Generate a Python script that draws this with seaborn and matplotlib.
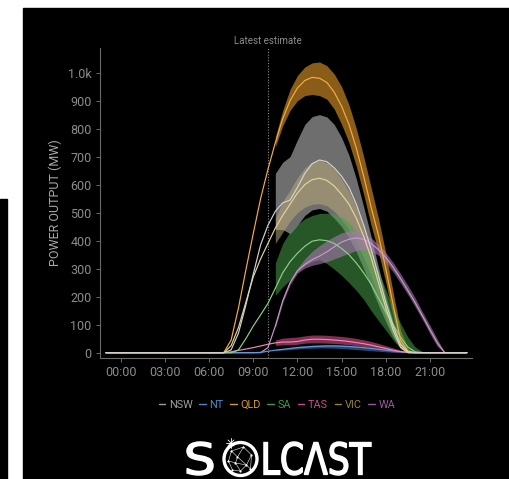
import matplotlib
matplotlib.use("Agg")
import numpy as np
import pandas as pd
import matplotlib.pyplot as plt
import seaborn as sns
from matplotlib.lines import Line2D
from matplotlib.patches import Rectangle, Circle, PathPatch
from matplotlib.textpath import TextPath
from matplotlib.font_manager import FontProperties
import matplotlib.transforms as mtransforms

# ---------------------------------------------------------------- data
# hour of day (local), estimated actuals up to 10:00, forecast after
hours = [-1.0, 6.5, 7.0, 7.5, 8.0, 8.5, 9.0, 9.5, 10.0, 10.5, 11.0, 11.5, 12.0,
         12.5, 13.0, 13.5, 14.0, 14.5, 15.0, 15.5, 16.0, 16.5, 17.0, 17.5, 18.0,
         18.5, 19.0, 19.5, 20.0, 20.5, 21.0, 21.5, 22.0, 23.5]

nsw = [0, 0, 0, 10, 70, 170, 280, 385, 455, 505, 535, 545, 590, 640, 675, 688, 682,
       660, 630, 590, 530, 455, 370, 275, 180, 95, 30, 3, 0, 0, 0, 0, 0, 0]
nt = [0, 0, 0, 0, 0, 0, 0, 1, 5, 9, 12, 15, 18, 20, 22, 23, 24,
      24, 23, 22, 20, 18, 15, 12, 9, 6, 3, 1, 0, 0, 0, 0, 0, 0]
qld = [0, 0, 0, 45, 160, 295, 425, 550, 655, 750, 835, 900, 945, 972, 983, 980, 965,
       930, 880, 815, 730, 630, 520, 420, 300, 170, 45, 5, 0, 0, 0, 0, 0, 0]
sa = [0, 0, 0, 0, 10, 50, 95, 135, 176, 230, 285, 325, 355, 380, 398, 403, 400,
      390, 372, 350, 320, 285, 245, 195, 145, 100, 55, 20, 3, 0, 0, 0, 0, 0]
tas = [0, 0, 0, 3, 8, 13, 18, 24, 30, 35, 38, 38, 40, 45, 48, 48, 47,
       45, 43, 40, 36, 32, 27, 21, 15, 9, 4, 1, 0, 0, 0, 0, 0, 0]
vic = [0, 0, 0, 25, 90, 180, 270, 335, 390, 445, 490, 530, 570, 600, 618, 623, 615,
       595, 565, 530, 480, 415, 340, 250, 160, 80, 20, 0, 0, 0, 0, 0, 0, 0]
wa = [0, 0, 0, 0, 0, 0, 0, 0, 18, 95, 185, 250, 292, 315, 332, 345, 360,
      378, 395, 405, 410, 405, 390, 368, 340, 305, 265, 222, 178, 130, 82, 35, 0, 0]

# forecast uncertainty range (10th / 90th percentile)
forecast_hours = [10.5, 11.0, 11.5, 12.0, 12.5, 13.0, 13.5, 14.0, 14.5, 15.0, 15.5, 16.0,
                  16.5, 17.0, 17.5, 18.0, 18.5, 19.0, 19.5, 20.0, 20.5, 21.0, 21.5, 22.0]

nsw_lo = [440, 440, 425, 455, 490, 510, 515, 505, 480, 450, 410, 360, 300, 235, 170, 110, 55, 15, 0, 0, 0, 0, 0, 0]
nsw_hi = [640, 680, 700, 760, 815, 843, 850, 842, 815, 768, 705, 620, 520, 415, 305, 200, 110, 45, 10, 0, 0, 0, 0, 0]
vic_lo = [390, 430, 470, 500, 520, 530, 532, 525, 505, 475, 440, 395, 340, 275, 200, 125, 60, 15, 0, 0, 0, 0, 0, 0]
vic_hi = [480, 540, 580, 625, 660, 680, 686, 678, 655, 620, 575, 520, 450, 370, 280, 185, 95, 30, 3, 0, 0, 0, 0, 0]
qld_lo = [735, 810, 865, 900, 918, 922, 918, 905, 870, 815, 750, 665, 565, 455, 360, 250, 130, 20, 0, 0, 0, 0, 0, 0]
qld_hi = [770, 865, 940, 990, 1020, 1035, 1038, 1025, 995, 950, 885, 800, 700, 590, 480, 355, 215, 80, 15, 0, 0, 0, 0, 0]
sa_lo = [205, 235, 260, 290, 312, 326, 332, 318, 298, 276, 250, 222, 190, 150, 115, 80, 45, 15, 2, 0, 0, 0, 0, 0]
sa_hi = [320, 390, 432, 458, 478, 490, 497, 498, 495, 485, 465, 432, 385, 345, 290, 225, 160, 105, 55, 20, 3, 0, 0, 0]
tas_lo = [26, 28, 28, 30, 34, 35, 35, 34, 33, 31, 28, 25, 22, 18, 13, 8, 4, 1, 0, 0, 0, 0, 0, 0]
tas_hi = [45, 52, 54, 56, 60, 63, 63, 62, 60, 58, 55, 51, 46, 40, 33, 25, 17, 9, 3, 0, 0, 0, 0, 0]
nt_lo = [7, 9, 11, 13, 15, 16, 17, 17, 16, 15, 13, 11, 9, 7, 5, 3, 1, 0, 0, 0, 0, 0, 0, 0]
nt_hi = [11, 15, 19, 23, 25, 27, 28, 29, 29, 28, 26, 24, 21, 17, 13, 9, 5, 2, 0, 0, 0, 0, 0, 0]
wa_lo = [88, 178, 242, 284, 302, 312, 318, 325, 335, 345, 355, 365, 368, 362, 348, 322, 288, 248, 207, 163, 117, 67, 22, 0]
wa_hi = [102, 192, 258, 302, 335, 362, 382, 400, 415, 428, 435, 435, 425, 410, 387, 357, 322, 282, 240, 195, 145, 97, 48, 0]

states = ["NSW", "NT", "QLD", "SA", "TAS", "VIC", "WA"]
latest_estimate = 10.0
x_ticks = [0, 3, 6, 9, 12, 15, 18, 21]
x_tick_labels = ["00:00", "03:00", "06:00", "09:00", "12:00", "15:00", "18:00", "21:00"]
y_ticks = [0, 100, 200, 300, 400, 500, 600, 700, 800, 900, 1000]
y_tick_labels = ["0", "100", "200", "300", "400", "500", "600", "700", "800", "900", "1.0k"]

# ---------------------------------------------------------------- styling
band_colors = {"NSW": "#b8b8b8", "NT": "#4a90d9", "QLD": "#e69a28", "SA": "#48a048",
               "TAS": "#d9508a", "VIC": "#b8a878", "WA": "#a878b0"}
line_colors = {"NSW": "#d2d2d2", "NT": "#5a9be0", "QLD": "#f4ad45", "SA": "#8ccf8c",
               "TAS": "#ee88b6", "VIC": "#e2d49c", "WA": "#c89ac8"}
legend_colors = {"NSW": "#9e9e9e", "NT": "#4f86c6", "QLD": "#d99a3a", "SA": "#3f9a4a",
                 "TAS": "#c94f86", "VIC": "#9a8444", "WA": "#9a5aa0"}

sns.set_style("dark", {"axes.facecolor": "black", "figure.facecolor": "white"})
plt.rcParams["font.family"] = ["Roboto", "DejaVu Sans"]

W, H = 510, 479
fig = plt.figure(figsize=(W / 100, H / 100), dpi=100)
fig.patch.set_facecolor("white")

# dark panel and side strip, behind everything else
fig.patches.append(Rectangle((23 / W, 0), 1 - 23 / W, (H - 8) / H,
                             transform=fig.transFigure, color="black", zorder=-10))
fig.patches.append(Rectangle((0, 0), 7 / W, (H - 199) / H,
                             transform=fig.transFigure, color="black", zorder=-10))

ax = fig.add_axes([100 / W, 1 - 358 / H, 372 / W, 310 / H], zorder=1)
ax.set_facecolor("black")

series = {"NSW": nsw, "NT": nt, "QLD": qld, "SA": sa, "TAS": tas, "VIC": vic, "WA": wa}
bands = {"NSW": (nsw_lo, nsw_hi), "VIC": (vic_lo, vic_hi), "QLD": (qld_lo, qld_hi),
         "SA": (sa_lo, sa_hi), "WA": (wa_lo, wa_hi), "TAS": (tas_lo, tas_hi),
         "NT": (nt_lo, nt_hi)}
band_alpha = {"NSW": 0.6, "VIC": 0.55, "QLD": 0.6, "SA": 0.55, "WA": 0.6, "TAS": 0.6, "NT": 0.5}

for st in ["NSW", "VIC", "QLD", "SA", "WA", "TAS", "NT"]:
    lo, hi = bands[st]
    ax.fill_between(forecast_hours, lo, hi, color=band_colors[st],
                    alpha=band_alpha[st], linewidth=0, zorder=1)

df = pd.concat([pd.DataFrame({"hour": hours, "mw": series[s], "state": s}) for s in states],
               ignore_index=True)
draw_order = ["WA", "NT", "TAS", "SA", "VIC", "QLD", "NSW"]
sns.lineplot(data=df, x="hour", y="mw", hue="state", hue_order=draw_order,
             palette=line_colors, linewidth=0.85, estimator=None, legend=False,
             ax=ax, zorder=3)

ax.set_xlim(-1.4, 23.85)
ax.set_ylim(-19, 1088)
ax.set_xticks(x_ticks, x_tick_labels)
ax.set_yticks(y_ticks, y_tick_labels)
ax.set_xlabel("")
ax.set_ylabel("POWER OUTPUT (MW)", color="#a8a8a8", fontsize=9, labelpad=4)
ax.grid(False)
for side in ["top", "right"]:
    ax.spines[side].set_visible(False)
for side in ["left", "bottom"]:
    ax.spines[side].set_visible(True)
    ax.spines[side].set_color("#6a6a6a")
    ax.spines[side].set_linewidth(0.8)
ax.tick_params(axis="both", colors="#6a6a6a", labelcolor="#8c8c8c", labelsize=9,
               length=3, width=0.7, direction="out", left=True, bottom=True, pad=3)

# latest estimate marker
ax.axvline(latest_estimate, color="#8a8a8a", linestyle=(0, (1, 1.5)), linewidth=0.8, zorder=2)
ax.text(latest_estimate, 1.005, "Latest estimate", transform=ax.get_xaxis_transform(),
        ha="center", va="bottom", fontsize=7, color="#8c8c8c")

# legend
handles = [Line2D([0], [0], color=legend_colors[s], linewidth=1.0) for s in states]
leg = fig.legend(handles, states, loc="center", bbox_to_anchor=(277 / W, 1 - 405 / H),
                 ncol=len(states), frameon=False, fontsize=7.8, handlelength=0.6,
                 handletextpad=0.35, columnspacing=0.6,
                 labelcolor=[legend_colors[s] for s in states])

# wordmark
lay = fig.add_axes([0, 0, 1, 1], zorder=5)
lay.set_xlim(0, W)
lay.set_ylim(H, 0)
lay.axis("off")
fp = FontProperties(family="DejaVu Sans")


def word(text, x0, x1, ytop, ybot):
    tp = TextPath((0, 0), text, size=100, prop=fp)
    bb = tp.get_extents()
    tr = (mtransforms.Affine2D().translate(-bb.x0, -bb.y0)
          .scale((x1 - x0) / bb.width, -(ybot - ytop) / bb.height)
          .translate(x0, ybot))
    lay.add_patch(PathPatch(tr.transform_path(tp), facecolor="white", edgecolor="white",
                            linewidth=1.1))


word("S", 187, 213, 442, 475)
word("LCΛST", 264, 371, 442, 475)
cx, cy, r = 240.5, 459, 16.5
lay.add_patch(Circle((cx, cy), r, facecolor="none", edgecolor="white", linewidth=2.4))
nodes = np.array([[-9, -8], [3, -12], [11, -4], [6, 6], [-5, 4], [-12, 2], [0, 12],
                  [10, 10], [-3, -2], [-8, 11]])
links = [(0, 1), (1, 2), (2, 3), (3, 4), (4, 5), (5, 0), (4, 6), (6, 3), (3, 7),
         (8, 0), (8, 1), (8, 4), (8, 3), (5, 9), (9, 6), (2, 7)]
for a, b in links:
    lay.plot([cx + nodes[a, 0], cx + nodes[b, 0]], [cy + nodes[a, 1], cy + nodes[b, 1]],
             color="white", linewidth=0.45, alpha=0.85)
lay.scatter(cx + nodes[:, 0], cy + nodes[:, 1], s=2.5, color="white", linewidths=0)
# sparkle on the rim
sx, sy = 231, 443
for dx, dy in [(5, 0), (0, 5), (3, 3), (3, -3)]:
    lay.plot([sx - dx, sx + dx], [sy - dy, sy + dy], color="white", linewidth=0.6)

fig.savefig("out.png", dpi=100, facecolor=fig.get_facecolor())
